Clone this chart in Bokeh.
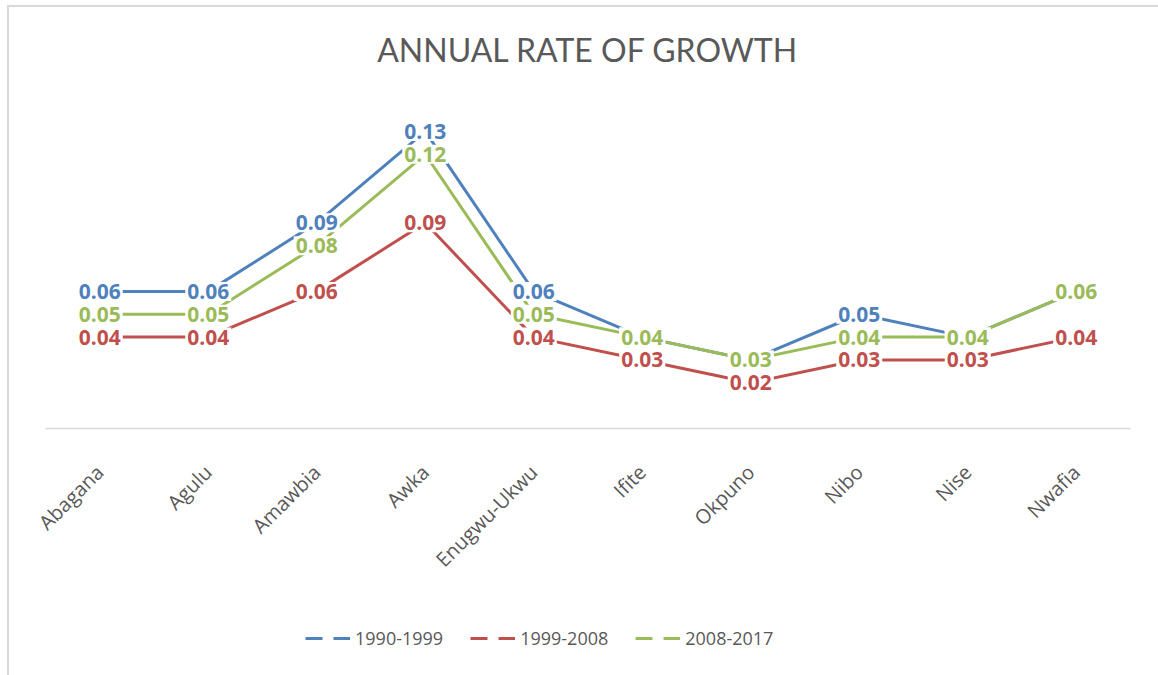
import math
from bokeh.plotting import figure
from bokeh.layouts import column
from bokeh.models import ColumnDataSource, Range1d, Legend, LegendItem
from bokeh.embed import file_html
from bokeh.resources import INLINE
from bokeh.core.properties import value

towns = ["Abagana", "Agulu", "Amawbia", "Awka", "Enugwu-Ukwu",
         "Ifite", "Okpuno", "Nibo", "Nise", "Nwafia"]
rate_1990_1999 = [0.06, 0.06, 0.09, 0.13, 0.06, 0.04, 0.03, 0.05, 0.04, 0.06]
rate_1999_2008 = [0.04, 0.04, 0.06, 0.09, 0.04, 0.03, 0.02, 0.03, 0.03, 0.04]
rate_2008_2017 = [0.05, 0.05, 0.08, 0.12, 0.05, 0.04, 0.03, 0.04, 0.04, 0.06]
series_names = ["1990-1999", "1999-2008", "2008-2017"]
series_values = [rate_1990_1999, rate_1999_2008, rate_2008_2017]
colors = ["#4F81BD", "#C0504D", "#9BBB59"]

sources = []
for vals in series_values:
    sources.append(ColumnDataSource(dict(x=towns, y=vals,
                                         label=[f"{v:.2f}" for v in vals])))

# ---- main chart ----
p = figure(x_range=towns, y_range=Range1d(0, 0.1501),
           width=1149, height=611, output_backend="svg", toolbar_location=None,
           min_border_left=36, min_border_right=28, min_border_top=78,
           min_border_bottom=190)

p.title.text = "ANNUAL RATE OF GROWTH"
p.title.align = "center"
p.title.text_font = "Lato"
p.title.text_font_size = "32px"
p.title.text_font_style = "normal"
p.title.text_color = "#595959"
p.title.standoff = 34

p.outline_line_color = None
p.xgrid.visible = False
p.ygrid.visible = False
p.yaxis.visible = False

ax = p.xaxis[0]
ax.major_label_orientation = math.pi / 4
ax.major_label_standoff = 34
ax.major_label_text_font = "Open Sans"
ax.major_label_text_font_size = "20px"
ax.major_label_text_color = "#595959"
ax.axis_line_color = "#d9d9d9"
ax.axis_line_width = 1.5
ax.major_tick_line_color = None
ax.minor_tick_line_color = None

for src, c in zip(sources, colors):
    p.line(x="x", y="y", source=src, line_color=c, line_width=3)

for src, c in zip(sources, colors):
    p.text(x="x", y="y", text="label", source=src,
           text_font=value("Open Sans"), text_font_style="bold",
           text_font_size="21px", text_color=c, text_align="center",
           text_baseline="middle", background_fill_color="white", padding=2)

# ---- legend strip ----
q = figure(width=1149, height=57, output_backend="svg", toolbar_location=None,
           x_axis_location=None, y_axis_location=None,
           x_range=towns, y_range=Range1d(0, 1),
           min_border_left=0, min_border_right=0, min_border_top=0,
           min_border_bottom=0)
q.outline_line_color = None
q.xgrid.visible = False
q.ygrid.visible = False

items = []
for name, src, c in zip(series_names, sources, colors):
    r = q.line(x="x", y="y", source=src, line_color=c, line_width=3,
               line_dash="17 11", visible=False)
    items.append(LegendItem(label=name, renderers=[r]))

legend = Legend(items=items, orientation="horizontal", location=(260, 25),
                glyph_width=45, glyph_height=20, label_standoff=5, spacing=27,
                padding=0, margin=0, border_line_color=None,
                background_fill_alpha=0, inactive_fill_alpha=0,
                label_text_font="Open Sans",
                label_text_font_size="18px", label_text_color="#595959")
q.add_layout(legend)

layout = column(p, q, spacing=0)
layout.styles = {"margin-left": "7px", "margin-top": "5px",
                 "border-left": "2px solid #d9d9d9",
                 "border-top": "2px solid #d9d9d9"}

open("out.html", "w").write(file_html(layout, INLINE))
